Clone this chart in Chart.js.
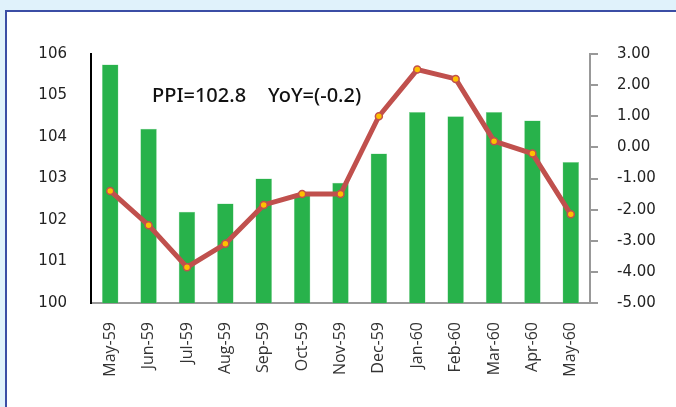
<!DOCTYPE html>
<html>
<head>
<meta charset="utf-8">
<script src="https://cdn.jsdelivr.net/npm/chart.js@4.4.1/dist/chart.umd.min.js"></script>
<style>
  html, body { margin: 0; padding: 0; background: #e0f2fb; }
  body { width: 676px; height: 407px; overflow: hidden; position: relative; }
  .panel {
    position: absolute; left: 5px; top: 10px; width: 700px; height: 420px;
    background: #fff; border-left: 2px solid #3b4ea5; border-top: 2px solid #3b4ea5;
  }
  #wrap { position: absolute; left: 0; top: 0; width: 676px; height: 407px; }
</style>
</head>
<body>
<div class="panel"></div>
<div id="wrap"><canvas id="ppiChart"></canvas></div>
<script>
// ── Data ───────────────────────────────────────────────
const months   = ['May-59','Jun-59','Jul-59','Aug-59','Sep-59','Oct-59','Nov-59','Dec-59','Jan-60','Feb-60','Mar-60','Apr-60','May-60'];
const ppiIndex = [105.75, 104.2, 102.2, 102.4, 103.0, 102.6, 102.9, 103.6, 104.6, 104.5, 104.6, 104.4, 103.4];
const ppiYoY   = [-1.4, -2.5, -3.85, -3.1, -1.85, -1.5, -1.5, 1.0, 2.5, 2.2, 0.2, -0.2, -2.15];
const noteLeft  = 'PPI=102.8';
const noteRight = 'YoY=(-0.2)';

// ── Annotation text ───────────────────────────────────
const notePlugin = {
  id: 'note',
  afterDatasetsDraw(chart) {
    const c = chart.ctx;
    c.save();
    c.font = '500 20px "Noto Sans"';
    c.fillStyle = '#111';
    c.textBaseline = 'alphabetic';
    c.fillText(noteLeft, 152, 102);
    c.fillText(noteRight, 268, 102);
    c.restore();
  }
};

new Chart(document.getElementById('ppiChart'), {
  type: 'bar',
  data: {
    labels: months,
    datasets: [
      {
        type: 'line',
        data: ppiYoY,
        yAxisID: 'yR',
        order: 0,
        borderColor: '#c0504d',
        borderWidth: 5,
        pointRadius: 3.5,
        pointBackgroundColor: '#ffc000',
        pointBorderColor: '#c0504d',
        pointBorderWidth: 1.5,
        tension: 0
      },
      {
        data: ppiIndex,
        yAxisID: 'yL',
        order: 1,
        backgroundColor: '#28b24b',
        borderColor: '#8fd8a0',
        borderWidth: 0.5,
        barPercentage: 0.43,
        categoryPercentage: 1
      }
    ]
  },
  options: {
    responsive: true,
    maintainAspectRatio: false,
    animation: false,
    layout: { padding: { top: 54, left: 0, right: 0, bottom: 0 } },
    plugins: { legend: { display: false }, tooltip: { enabled: false } },
    scales: {
      x: {
        grid: { display: false },
        border: { color: '#999', width: 2 },
        ticks: {
          minRotation: 90, maxRotation: 90, padding: 11,
          color: '#333', font: { family: 'Open Sans', size: 16 }
        },
        afterFit: s => { s.height = 104; }
      },
      yL: {
        position: 'left',
        min: 100, max: 106,
        grid: { display: false },
        border: { color: '#000', width: 2 },
        ticks: { stepSize: 1, padding: 16, color: '#222', font: { family: 'DejaVu Sans', size: 15 } },
        afterFit: s => { s.width = 91; }
      },
      yR: {
        position: 'right',
        min: -5, max: 3,
        grid: { drawOnChartArea: false, color: '#999', lineWidth: 2, tickLength: 8 },
        border: { color: '#999', width: 2 },
        ticks: {
          stepSize: 1, padding: 19, color: '#222', font: { family: 'DejaVu Sans', size: 15 },
          callback: v => v.toFixed(2)
        },
        afterFit: s => { s.width = 86; }
      }
    }
  },
  plugins: [notePlugin]
});
</script>
</body>
</html>
